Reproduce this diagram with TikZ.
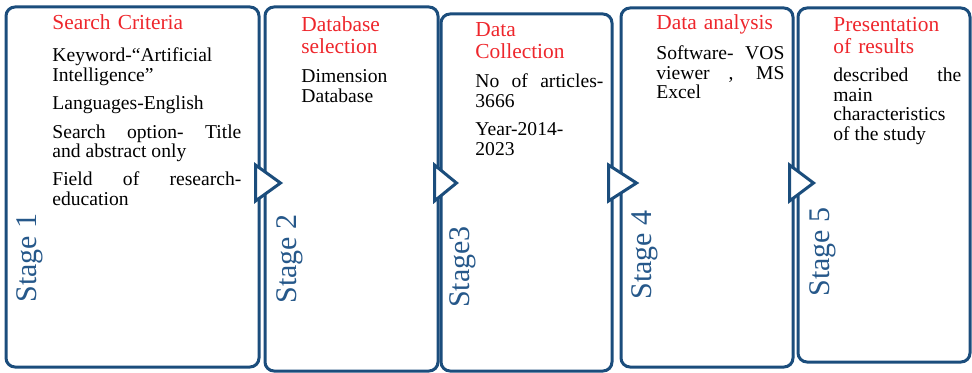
\documentclass[tikz,border=0pt]{standalone}
\usepackage{amssymb}
\usepackage{amsmath}
\usepackage{xcolor}
\usepackage{fontspec}
\setmainfont{Liberation Serif}
\usepackage{tikz}
\usetikzlibrary{calc}

\definecolor{stageline}{RGB}{27,77,124}
\definecolor{stagetext}{RGB}{38,88,138}
\definecolor{headred}{RGB}{238,38,44}
\setlength{\lineskiplimit}{-5pt}
\newcommand{\itemgap}{\par\vspace{4.4pt}}

\begin{document}
\begin{tikzpicture}[x=0.5pt,y=-0.5pt,
	stagebox/.style={draw=stageline, line width=1.5pt, rounded corners=4.5pt, inner sep=0pt},
	stagetip/.style={draw=stageline, line width=1.5pt, fill=white, line join=miter},
	stagename/.style={text=stagetext, rotate=90, inner sep=0pt, font=\fontsize{15}{15}\selectfont},
	head/.style={text=headred, anchor=base west, inner sep=0pt, align=left, text width=64pt, font=\fontsize{10.7}{10.7}\selectfont},
	body/.style={anchor=base west, inner sep=0pt, align=justify, text width=64pt, font=\fontsize{9.8}{9.75}\selectfont}]
	\useasboundingbox (0,0) rectangle (972,373);
	% stage boxes
	\node[stagebox, minimum width=126.5pt, minimum height=180pt] (s1) at (132.5,187) {};
	\node[stagebox, minimum width=86.5pt, minimum height=182pt] (s2) at (351.5,189) {};
	\node[stagebox, minimum width=85.5pt, minimum height=178.5pt] (s3) at (526.5,192.5) {};
	\node[stagebox, minimum width=86pt, minimum height=179.5pt] (s4) at (707,187.5) {};
	\node[stagebox, minimum width=86pt, minimum height=177pt] (s5) at (884,185) {};
	% arrow heads between the stages
	\coordinate (mid) at (0,183);
	\foreach \a/\b in {s1/s2,s2/s3,s3/s4,s4/s5}
		\draw[stagetip] ($(\a.east |- mid)+(-5,-18)$) -- ($(\b.west |- mid)+(17,0)$) -- ($(\a.east |- mid)+(-5,18)$) -- cycle;
	% stage names
	\node[stagename] (n1) at (30,258) {Stage 1};
	\node[stagename] (n2) at (290,259) {Stage 2};
	\node[stagename] (n3) at (463,267) {Stage3};
	\node[stagename] (n4) at (645,255) {Stage 4};
	\node[stagename] (n5) at (823,252) {Stage 5};
	% titles and contents
	\node[head, text width=94.5pt] (h1) at (52,30) {Search Criteria};
	\node[body, text width=94.5pt] (b1) at (52,62) {Keyword-“Artificial\newline Intelligence”\itemgap Languages-English\itemgap Search option- Title\linebreak and abstract only\itemgap Field of research-\linebreak education};
	\node[head] (h2) at (301,32) {Database\\selection};
	\node[body] (b2) at (301,83) {Dimension\newline Database};
	\node[head] (h3) at (475,37) {Data\\Collection};
	\node[body] (b3) at (475,88) {No of articles-\linebreak 3666\itemgap Year-2014-\newline 2023};
	\node[head] (h4) at (656,30) {Data analysis};
	\node[body] (b4) at (656,60) {Software- VOS\linebreak viewer , MS\linebreak Excel};
	\node[head] (h5) at (833,32) {Presentation\\of results};
	\node[body] (b5) at (833,82) {described the\linebreak main\newline characteristics\newline of the study};
\end{tikzpicture}
\end{document}
